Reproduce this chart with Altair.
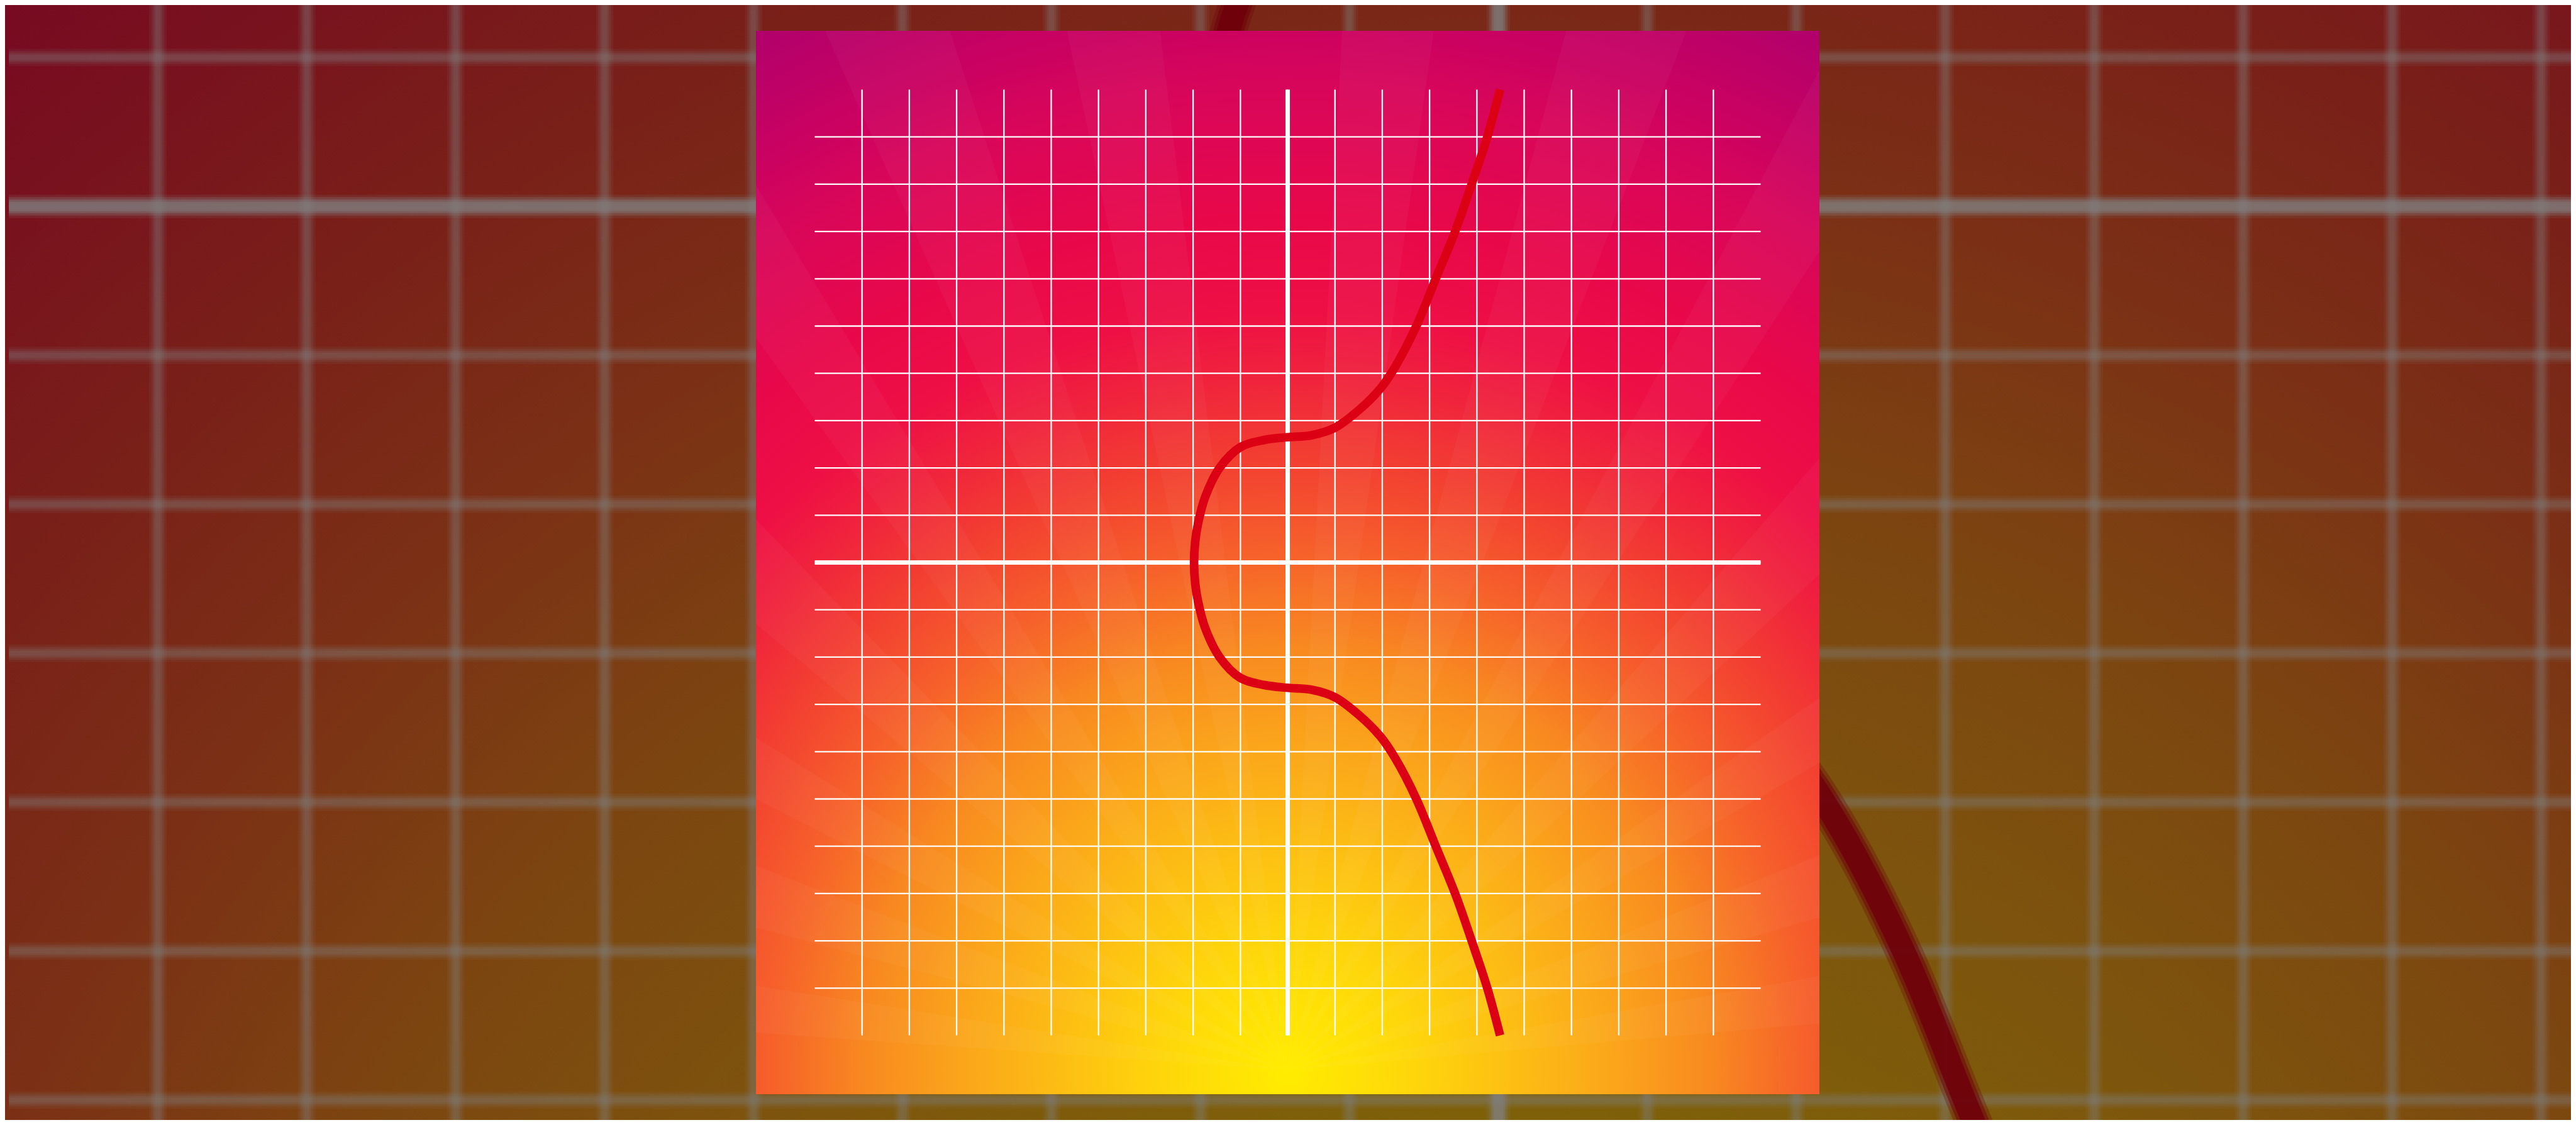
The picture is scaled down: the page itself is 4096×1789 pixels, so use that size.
import math
import altair as alt
import pandas as pd

# ---------------- data ----------------
# curve, in grid units, from the top end round the left tip to the bottom end
curve_x = [4.49, 4.22, 3.89, 3.54, 3.13, 2.72, 2.28, 1.96, 1.5, 1.0, 0.5, 0.0, -0.5, -1.0,
           -1.44, -1.75, -1.9, -1.955, -1.98, -1.955, -1.9, -1.75, -1.44, -1.0, -0.5, 0.0,
           0.5, 1.0, 1.5, 1.96, 2.28, 2.72, 3.13, 3.54, 3.89, 4.22, 4.49]
curve_y = [10.0, 9.0, 8.0, 7.0, 6.0, 5.0, 4.15, 3.68, 3.22, 2.85, 2.69, 2.65, 2.59, 2.44,
           2.0, 1.37, 0.8, 0.45, 0.0, -0.45, -0.8, -1.37, -2.0, -2.44, -2.59, -2.65,
           -2.69, -2.85, -3.22, -3.68, -4.15, -5.0, -6.0, -7.0, -8.0, -9.0, -10.0]

grid_lines = [-9, -8, -7, -6, -5, -4, -3, -2, -1, 0, 1, 2, 3, 4, 5, 6, 7, 8, 9]
grid_span = [-10, 10]
axis_lines = [0]

# faint sun-ray wedges (degrees, 0 = straight up, clockwise)
ray_start_deg = [-86, -75, -63, -50, -36, -24, -12, 3, 15, 28, 41, 55, 68, 80]
ray_end_deg = [-81, -69, -58, -44, -31, -18, -7, 8, 21, 33, 47, 60, 74, 85]
ray_origin_x = [0.0]
ray_origin_y = [-10.73]

gradient_offsets = [0.0, 0.10, 0.18, 0.27, 0.36, 0.44, 0.53, 0.59, 0.65, 0.73, 0.84, 0.89, 1.0]
gradient_colors = ["#ffec00", "#fed80a", "#fdc212", "#fba81a", "#f88a20", "#f6622a",
                   "#f23c32", "#f0243c", "#ee0f45", "#e8084a", "#d8065a", "#cc0260", "#b0006c"]

# ---------------- layout ----------------
REF_W = 5828
S = 4096 / REF_W
MARGIN = 8
CHART_W, CHART_H = 4080, 1773
UNIT_REF = 107.0
PANEL_CX, PANEL_CY = 2913.5, 1272.5
PANEL_HALF_REF = 1203.0
BG_UNIT_REF = 337.0
BG_OX, BG_OY = 3390.0, 467.0

W = round(2 * PANEL_HALF_REF * S)
pad_l = round((PANEL_CX - PANEL_HALF_REF) * S - MARGIN)
pad_t = round((PANEL_CY - PANEL_HALF_REF) * S - MARGIN)
pad_r = CHART_W - W - pad_l
pad_b = CHART_H - W - pad_t

half_units = PANEL_HALF_REF / UNIT_REF
panel_dom = [-half_units, half_units]

bg_unit_px = BG_UNIT_REF * S
bg_ox = BG_OX * S - MARGIN - pad_l
bg_oy = BG_OY * S - MARGIN - pad_t
bg_x_dom = [(0 - bg_ox) / bg_unit_px, (W - bg_ox) / bg_unit_px]
bg_y_dom = [(bg_oy - W) / bg_unit_px, bg_oy / bg_unit_px]

k_panel = S
k_bg = S * BG_UNIT_REF / UNIT_REF


def darken(hx, f):
    r, g, b = int(hx[1:3], 16), int(hx[3:5], 16), int(hx[5:7], 16)
    return "#%02x%02x%02x" % (int(r * f), int(g * f), int(b * f))


def gradient(colors):
    return alt.RadialGradient(
        gradient="radial", x1=0.5, y1=0.977, r1=0, x2=0.5, y2=0.977, r2=1.10,
        stops=[alt.GradientStop(offset=o, color=c) for o, c in zip(gradient_offsets, colors)])


# ---------------- tables ----------------
rect_df = pd.DataFrame({"x0": [-half_units], "x1": [half_units], "y0": [-half_units], "y1": [half_units]})
grid_df = pd.DataFrame({"g": grid_lines, "lo": grid_span[0], "hi": grid_span[1]})
axis_df = pd.DataFrame({"g": axis_lines, "lo": grid_span[0], "hi": grid_span[1]})
curve_df = pd.DataFrame({"x": curve_x, "y": curve_y, "i": list(range(len(curve_x)))})
ray_df = pd.DataFrame({
    "x": ray_origin_x * len(ray_start_deg),
    "y": ray_origin_y * len(ray_start_deg),
    "t0": [math.radians(d) for d in ray_start_deg],
    "t1": [math.radians(d) for d in ray_end_deg],
})


def scales(xdom, ydom):
    xs = alt.Scale(domain=xdom, zero=False, nice=False)
    ys = alt.Scale(domain=ydom, zero=False, nice=False)
    return xs, ys


def rules(df, xs, ys, color, width, opacity):
    v = alt.Chart(df).mark_rule(color=color, strokeWidth=width, opacity=opacity, strokeCap="butt").encode(
        x=alt.X("g:Q", scale=xs, axis=None),
        y=alt.Y("lo:Q", scale=ys, axis=None),
        y2="hi:Q")
    h = alt.Chart(df).mark_rule(color=color, strokeWidth=width, opacity=opacity, strokeCap="butt").encode(
        y=alt.Y("g:Q", scale=ys, axis=None),
        x=alt.X("lo:Q", scale=xs, axis=None),
        x2="hi:Q")
    return [v, h]


def curve(xs, ys, color, width, opacity):
    return alt.Chart(curve_df).mark_line(
        color=color, strokeWidth=width, opacity=opacity, interpolate="catmull-rom", strokeCap="butt"
    ).encode(
        x=alt.X("x:Q", scale=xs, axis=None),
        y=alt.Y("y:Q", scale=ys, axis=None),
        order=alt.Order("i:Q"))


def rect(xs, ys, colors):
    return alt.Chart(rect_df).mark_rect(fill=gradient(colors)).encode(
        x=alt.X("x0:Q", scale=xs, axis=None), x2="x1:Q",
        y=alt.Y("y0:Q", scale=ys, axis=None), y2="y1:Q")


# ---------------- blurred, darkened background ----------------
bxs, bys = scales(bg_x_dom, bg_y_dom)
bg_layers = [rect(bxs, bys, [darken(c, 0.5) for c in gradient_colors])]
grid_w = 3.3 * k_bg
for mult, op in [(3.8, 0.10), (2.8, 0.13), (1.9, 0.16), (1.1, 0.14)]:
    bg_layers += rules(grid_df, bxs, bys, "#808080", grid_w * mult, op)
axis_w = 10 * k_bg
for mult, op in [(1.7, 0.14), (1.35, 0.22), (1.0, 0.3), (0.7, 0.3)]:
    bg_layers += rules(axis_df, bxs, bys, "#808080", axis_w * mult, op)
curve_w = 19.5 * k_bg
for mult, op in [(1.35, 0.3), (1.1, 0.5), (0.85, 0.85)]:
    bg_layers.append(curve(bxs, bys, darken("#dc0014", 0.5), curve_w * mult, op))
bg = alt.layer(*bg_layers)

# ---------------- front panel ----------------
pxs, pys = scales(panel_dom, panel_dom)
rays = alt.Chart(ray_df).mark_arc(radius=2600, color="#ffffff", opacity=0.035, clip=True).encode(
    x=alt.X("x:Q", scale=pxs, axis=None),
    y=alt.Y("y:Q", scale=pys, axis=None),
    theta=alt.Theta("t0:Q", scale=None),
    theta2="t1:Q")
panel_layers = [rect(pxs, pys, gradient_colors), rays]
panel_layers += rules(grid_df, pxs, pys, "#ffffff", 3.3 * k_panel, 1.0)
panel_layers += rules(axis_df, pxs, pys, "#ffffff", 10 * k_panel, 1.0)
panel_layers.append(curve(pxs, pys, "#dc0014", 19.5 * k_panel, 1.0))
panel = alt.layer(*panel_layers)

chart = alt.layer(bg, panel).resolve_scale(x="independent", y="independent").properties(
    width=W, height=W,
    padding={"left": pad_l, "top": pad_t, "right": pad_r, "bottom": pad_b},
    autosize=alt.AutoSizeParams(type="none"),
    background="#6a1418",
).configure_view(strokeWidth=0)

chart.save("out.html", embed_options={"renderer": "svg", "actions": False})
